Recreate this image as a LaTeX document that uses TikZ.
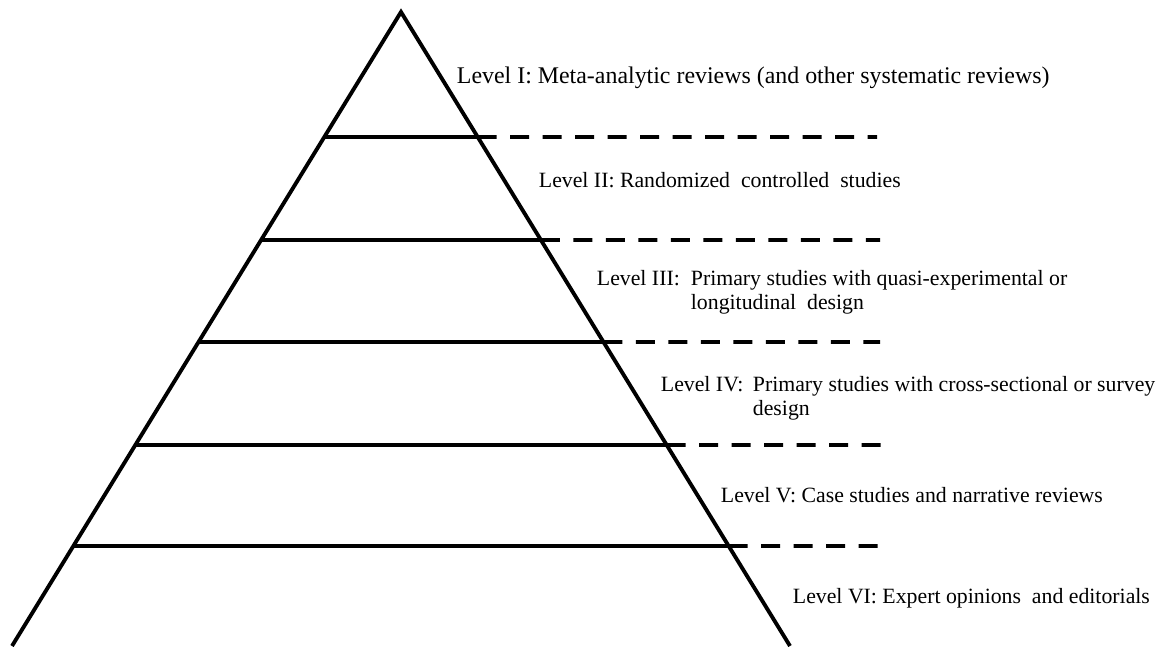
\documentclass[tikz,border=0pt]{standalone}
\usepackage{fontspec}
\setmainfont{Liberation Serif}
\usetikzlibrary{calc}

\begin{document}
\begin{tikzpicture}[x=0.02cm, y=-0.02cm, line width=2.2pt,
    level/.style={anchor=base west, inner sep=0pt, font=\fontsize{12.4}{14.2}\selectfont},
    sep/.style={dash pattern=on 0.38cm off 0.27cm}]
    \useasboundingbox (0,0) rectangle (1165,646);

    % pyramid
    \coordinate (apex) at (401,12);
    \coordinate (bl) at (12,646);
    \coordinate (br) at (790,646);
    \draw (bl) -- (apex) -- (br);

    % level boundaries, solid inside and dashed outside
    \foreach \y/\xe [count=\i] in {137/877, 240/880, 342/880, 445/886, 546/884} {
        \coordinate (l\i) at ($(apex)!{(\y-12)/634}!(bl)$);
        \coordinate (r\i) at ($(apex)!{(\y-12)/634}!(br)$);
        \coordinate (d\i) at (\xe,\y);
        \draw (l\i) -- (r\i);
        \draw[sep] (r\i) -- (d\i);
    }

    % labels
    \node[level, font=\fontsize{13.6}{15}\selectfont] (lv1) at (455,83) {Level I: Meta-analytic reviews (and other systematic reviews)};
    \node[level] (lv2) at (537,187) {Level II: Randomized\enspace controlled\enspace studies};
    \node[level] (lv3) at (595,285) {\begin{tabular}[t]{@{}l@{}l@{}}
        \makebox[1.88cm][l]{Level III:} & Primary studies with quasi-experimental or\\
        & longitudinal\enspace design
    \end{tabular}};
    \node[level] (lv4) at (659,391) {\begin{tabular}[t]{@{}l@{}l@{}}
        \makebox[1.84cm][l]{Level IV:} & Primary studies with cross-sectional or survey\\
        & design
    \end{tabular}};
    \node[level] (lv5) at (719,502) {Level V: Case studies and narrative reviews};
    \node[level] (lv6) at (791,603) {Level VI: Expert opinions\enspace and editorials};
\end{tikzpicture}
\end{document}
